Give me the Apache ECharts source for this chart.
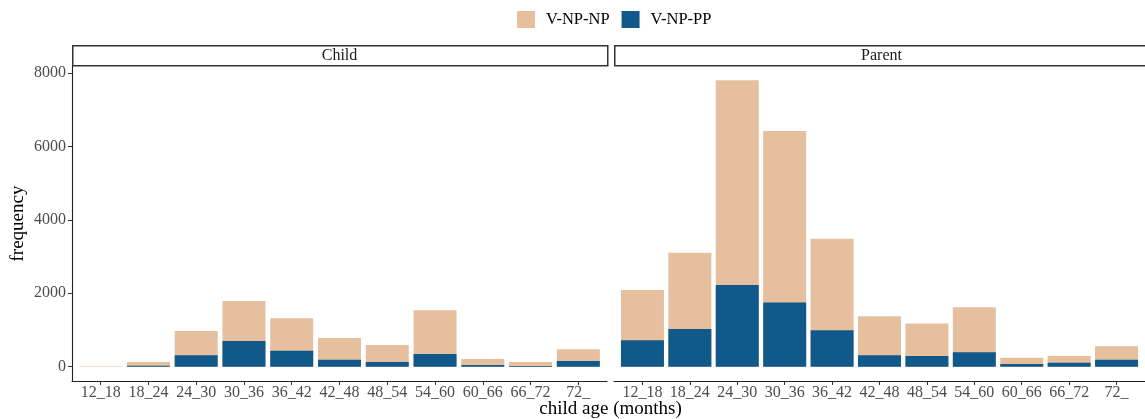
<!DOCTYPE html>
<html>
<head>
<meta charset="utf-8">
<script src="https://cdn.jsdelivr.net/npm/echarts@6/dist/echarts.min.js"></script>
<style>
  html, body { margin: 0; padding: 0; background: #fff; }
  #chart { width: 1145px; height: 419px; }
</style>
</head>
<body>
<div id="chart"></div>
<script>
// ---- data ----
const categories = ['12_18', '18_24', '24_30', '30_36', '36_42', '42_48', '48_54', '54_60', '60_66', '66_72', '72_'];
const panels = ['Child', 'Parent'];
const seriesNames = ['V-NP-NP', 'V-NP-PP'];
const childNPNP  = [15, 102, 664, 1091, 882, 591, 464, 1191, 164, 109, 318];
const childNPPP  = [0, 25, 309, 700, 436, 191, 127, 345, 45, 18, 155];
const parentNPNP = [1373, 2079, 5573, 4675, 2497, 1064, 882, 1227, 172, 182, 364];
const parentNPPP = [718, 1027, 2227, 1745, 991, 309, 291, 391, 73, 109, 191];
const yTicks = [0, 2000, 4000, 6000, 8000];
const xTitle = 'child age (months)';
const yTitle = 'frequency';

// ---- styles ----
const FONT = '"Liberation Serif", "DejaVu Serif", serif';
const PEACH = '#E6BF9E';
const BLUE = '#10598A';
const panelLeft = [72, 614];
const panelW = 535;
const panelTop = 66;
const panelH = 315;

const chart = echarts.init(document.getElementById('chart'), null, { renderer: 'canvas' });

const xTickVals = categories.map((c, i) => i + 1);
const yMax = Math.max(...parentNPNP.map((v, i) => v + parentNPPP[i]), ...childNPNP.map((v, i) => v + childNPPP[i]));
const yMin = -0.05 * yMax;
const yTop = yMax * 1.05;

const grids = panelLeft.map(l => ({ left: l, width: panelW, top: panelTop, height: panelH }));

const xAxes = panelLeft.map((l, gi) => ({
  type: 'value', gridIndex: gi, min: 0.4, max: categories.length + 0.6,
  axisLine: { show: true, onZero: false, lineStyle: { color: '#222', width: 1.1 } },
  axisTick: { show: true, length: 4, customValues: xTickVals, lineStyle: { color: '#333', width: 1 } },
  axisLabel: {
    customValues: xTickVals, margin: 4,
    formatter: v => categories[Math.round(v) - 1] || '',
    color: '#4D4D4D', fontFamily: FONT, fontSize: 16
  },
  splitLine: { show: false }
}));

const yAxes = panelLeft.map((l, gi) => ({
  type: 'value', gridIndex: gi, min: yMin, max: yTop,
  axisLine: { show: gi === 0, lineStyle: { color: '#222', width: 1.1 } },
  axisTick: { show: gi === 0, length: 4, customValues: yTicks, lineStyle: { color: '#333', width: 1 } },
  axisLabel: {
    show: gi === 0, customValues: yTicks, margin: 6,
    formatter: v => String(Math.round(v)),
    color: '#4D4D4D', fontFamily: FONT, fontSize: 16
  },
  splitLine: { show: false },
  name: gi === 0 ? yTitle : '',
  nameLocation: 'middle', nameRotate: 90, nameGap: 44,
  nameTextStyle: { color: '#000', fontFamily: FONT, fontSize: 19 }
}));

function panelSeries(gi, np, pp) {
  return [
    {
      name: seriesNames[0], type: 'bar', xAxisIndex: gi, yAxisIndex: gi,
      barWidth: 43, barGap: '-100%',
      itemStyle: { color: PEACH },
      data: np.map((v, i) => [i + 1, v + pp[i]])
    },
    {
      name: seriesNames[1], type: 'bar', xAxisIndex: gi, yAxisIndex: gi,
      barWidth: 43, barGap: '-100%',
      itemStyle: { color: BLUE },
      data: pp.map((v, i) => [i + 1, v])
    }
  ];
}

const graphics = [];
panels.forEach((p, gi) => {
  graphics.push({
    type: 'rect', left: panelLeft[gi], top: 45,
    shape: { width: panelW, height: 20 },
    style: { fill: '#fff', stroke: '#333', lineWidth: 1.5 }
  });
  graphics.push({
    type: 'text', x: panelLeft[gi] + panelW / 2, y: 55.5,
    style: { text: p, font: '16px ' + FONT, fill: '#1A1A1A', textAlign: 'center', textVerticalAlign: 'middle' }
  });
});
graphics.push({
  type: 'text', x: (panelLeft[0] + panelLeft[1] + panelW) / 2, y: 409,
  style: { text: xTitle, font: '19px ' + FONT, fill: '#000', textAlign: 'center', textVerticalAlign: 'middle' }
});

chart.setOption({
  animation: false,
  backgroundColor: '#fff',
  legend: {
    data: seriesNames, left: 517, top: 11, padding: 0,
    icon: 'rect', itemWidth: 18, itemHeight: 17, itemGap: 12,
    textStyle: { color: '#000', fontFamily: FONT, fontSize: 16.5, padding: [0, 0, 0, 6] }
  },
  grid: grids,
  xAxis: xAxes,
  yAxis: yAxes,
  series: [...panelSeries(0, childNPNP, childNPPP), ...panelSeries(1, parentNPNP, parentNPPP)],
  graphic: graphics
});
</script>
</body>
</html>
